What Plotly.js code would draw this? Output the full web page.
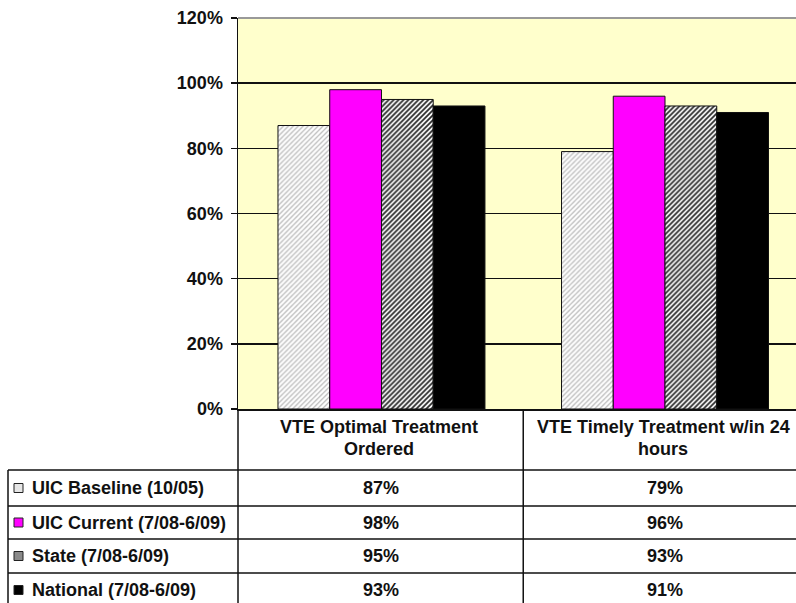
<!DOCTYPE html>
<html>
<head>
<meta charset="utf-8">
<script src="https://cdn.plot.ly/plotly-3.0.1.min.js"></script>
<style>html,body{margin:0;padding:0;background:#fff;}#chart{width:796px;height:603px;}</style>
</head>
<body>
<div id="chart"></div>
<script>
// ---- data ----
const categories = ['VTE Optimal Treatment Ordered', 'VTE Timely Treatment w/in 24 hours'];
const headerLine1 = ['VTE Optimal Treatment', 'VTE Timely Treatment w/in 24'];
const headerLine2 = ['Ordered', 'hours'];
const seriesNames = ['UIC Baseline (10/05)', 'UIC Current (7/08-6/09)', 'State (7/08-6/09)', 'National (7/08-6/09)'];
const baseline = [87, 79];
const current = [98, 96];
const state = [95, 93];
const national = [93, 91];
const yTickVals = [0, 20, 40, 60, 80, 100, 120];
const yTickText = ['0%', '20%', '40%', '60%', '80%', '100%', '120%'];

// ---- layout helpers ----
const W = 796, H = 603, L = 238, T = 18, B = 194, R = 0;
const PW = W - L - R, PH = H - T - B;
const px = x => (x - L) / PW;          // pixel x -> paper x
const py = y => (H - B - y) / PH;      // pixel y -> paper y

const FONT = 'Liberation Sans, Arial, Helvetica, sans-serif';
const seriesValues = [baseline, current, state, national];

const styles = [
  {color: '#ffffff', pattern: {shape: '/', fgcolor: '#b8b8b8', bgcolor: '#ffffff', size: 3.5, solidity: 0.35}},
  {color: '#ff00ff'},
  {color: '#ffffff', pattern: {shape: '/', fgcolor: '#2a2a2a', bgcolor: '#ffffff', size: 3.5, solidity: 0.5}},
  {color: '#000000'}
];

const traces = seriesNames.map((name, i) => ({
  type: 'bar',
  name: name,
  x: categories,
  y: seriesValues[i],
  marker: Object.assign({line: {color: '#111', width: 1}}, styles[i]),
  hoverinfo: 'none'
}));

const shapes = [];
const annotations = [];
const lineCol = '#111';
// top border
shapes.push({type: 'line', xref: 'paper', yref: 'paper', x0: 0, x1: 1, y0: 1, y1: 1, line: {color: '#999', width: 2}});
// table lines
const rowLines = [470, 506, 539, 573];
rowLines.forEach(y => shapes.push({type: 'line', xref: 'paper', yref: 'paper', x0: px(8), x1: 1, y0: py(y), y1: py(y), line: {color: lineCol, width: 1.5}}));
shapes.push({type: 'line', xref: 'paper', yref: 'paper', x0: 0, x1: 0, y0: 0, y1: py(610), line: {color: lineCol, width: 1.5}});
shapes.push({type: 'line', xref: 'x', yref: 'paper', x0: 0.5, x1: 0.5, y0: 0, y1: py(610), line: {color: lineCol, width: 1.5}});
shapes.push({type: 'line', xref: 'paper', yref: 'paper', x0: px(8), x1: px(8), y0: py(470), y1: py(610), line: {color: lineCol, width: 1.5}});

// header text
categories.forEach((c, j) => {
  annotations.push({xref: 'x', yref: 'paper', x: j, y: py(427), xshift: -2, text: headerLine1[j], showarrow: false, xanchor: 'center', yanchor: 'middle', font: {family: FONT, size: 18, weight: 'bold', color: '#111'}});
  annotations.push({xref: 'x', yref: 'paper', x: j, y: py(449), xshift: -2, text: headerLine2[j], showarrow: false, xanchor: 'center', yanchor: 'middle', font: {family: FONT, size: 18, weight: 'bold', color: '#111'}});
});

// rows
const rowCenters = [488, 522.5, 556, 590];
const keyFill = ['#e6e6e6', '#ff00ff', '#8a8a8a', '#000000'];
seriesNames.forEach((name, i) => {
  const yc = rowCenters[i];
  shapes.push({type: 'rect', xref: 'paper', yref: 'paper', x0: px(14), x1: px(23), y0: py(yc - 4.5), y1: py(yc + 4.5), fillcolor: keyFill[i], line: {color: '#222', width: 1}});
  annotations.push({xref: 'paper', yref: 'paper', x: px(30), y: py(yc), text: name, showarrow: false, xanchor: 'left', yanchor: 'middle', font: {family: FONT, size: 18, weight: 'bold', color: '#111'}});
  seriesValues[i].forEach((v, j) => {
    annotations.push({xref: 'x', yref: 'paper', x: j, y: py(yc), text: v + '%', showarrow: false, xanchor: 'center', yanchor: 'middle', font: {family: FONT, size: 18, weight: 'bold', color: '#111'}});
  });
});

const layout = {
  width: W, height: H,
  margin: {l: L, r: R, t: T, b: B, pad: 0},
  paper_bgcolor: '#ffffff',
  plot_bgcolor: '#ffffcc',
  showlegend: false,
  barmode: 'group',
  bargap: 0.27,
  bargroupgap: 0,
  xaxis: {
    type: 'category',
    range: [-0.506, 1.462],
    showticklabels: false,
    ticks: '',
    showgrid: false,
    showline: true, linecolor: lineCol, linewidth: 1.5,
    zeroline: false, fixedrange: true
  },
  yaxis: {
    range: [0, 120],
    tickvals: yTickVals,
    ticktext: yTickText,
    ticks: 'outside', ticklen: 6, tickwidth: 1.5, tickcolor: lineCol,
    ticklabelstandoff: 4,
    tickfont: {family: FONT, size: 18, weight: 'bold', color: '#111'},
    showgrid: true, gridcolor: '#111', gridwidth: 1.5,
    showline: true, linecolor: lineCol, linewidth: 1.5,
    zeroline: false, fixedrange: true
  },
  shapes: shapes,
  annotations: annotations
};

Plotly.newPlot('chart', traces, layout, {staticPlot: true, displayModeBar: false});
</script>
</body>
</html>
